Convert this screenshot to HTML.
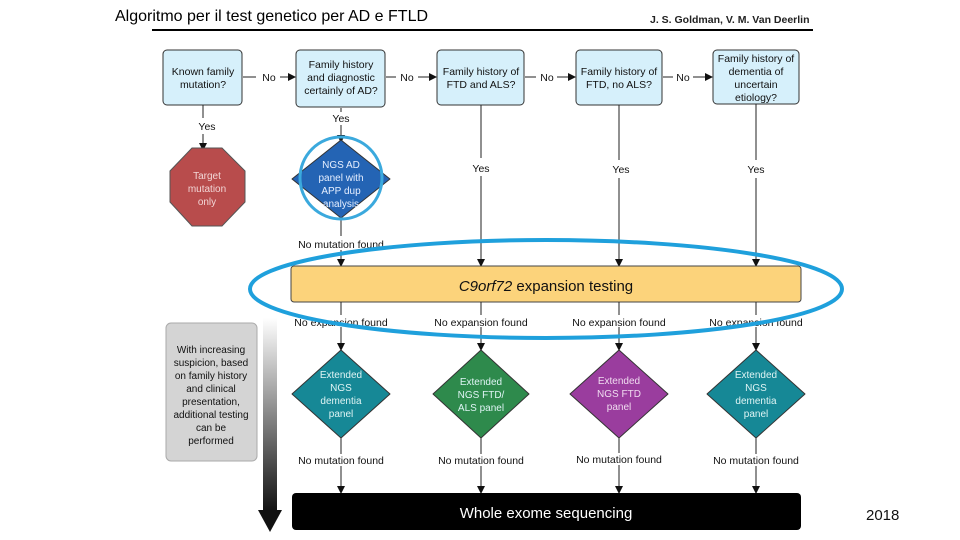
<!DOCTYPE html>
<html><head><meta charset="utf-8"><style>
html,body{margin:0;padding:0;background:#fff;}
svg{display:block;}
text{font-family:"Liberation Sans",sans-serif;}
</style></head><body>
<svg width="960" height="540" viewBox="0 0 960 540" xmlns="http://www.w3.org/2000/svg">
<defs>
<marker id="a" markerWidth="8" markerHeight="8" refX="7" refY="4" orient="auto" markerUnits="userSpaceOnUse"><path d="M0,0 L8,4 L0,8 z" fill="#111"/></marker>
<linearGradient id="g" x1="0" y1="0" x2="0" y2="1"><stop offset="0" stop-color="#fff"/><stop offset="1" stop-color="#111"/></linearGradient>
</defs>
<text x="115" y="21" font-size="16" font-family="Liberation Sans">Algoritmo per il test genetico per AD e FTLD</text>
<text x="650" y="23" font-size="10.5" font-weight="bold" fill="#222">J. S. Goldman, V. M. Van Deerlin</text>
<line x1="152" y1="30" x2="813" y2="30" stroke="#000" stroke-width="2"/>

<g fill="#d6f0fb" stroke="#333" stroke-width="1">
<rect x="163" y="50" width="79" height="55" rx="4"/>
<rect x="296" y="50" width="89" height="57" rx="4"/>
<rect x="437" y="50" width="87" height="55" rx="4"/>
<rect x="576" y="50" width="86" height="55" rx="4"/>
<rect x="713" y="50" width="86" height="54" rx="4"/>
</g>
<g font-size="10.5" text-anchor="middle" fill="#111">
<text x="203" y="75">Known family</text><text x="203" y="88">mutation?</text>
<text x="341" y="68">Family history</text><text x="341" y="81">and diagnostic</text><text x="341" y="94">certainly of AD?</text>
<text x="481" y="75">Family history of</text><text x="481" y="88">FTD and ALS?</text>
<text x="619" y="75">Family history of</text><text x="619" y="88">FTD, no ALS?</text>
<text x="756" y="62">Family history of</text><text x="756" y="75">dementia of</text><text x="756" y="88">uncertain</text><text x="756" y="101">etiology?</text>
</g>
<g stroke="#222" stroke-width="1" fill="none">
<line x1="243" y1="77" x2="256" y2="77"/><line x1="280" y1="77" x2="295" y2="77" marker-end="url(#a)"/>
<line x1="386" y1="77" x2="396" y2="77"/><line x1="418" y1="77" x2="436" y2="77" marker-end="url(#a)"/>
<line x1="525" y1="77" x2="536" y2="77"/><line x1="557" y1="77" x2="575" y2="77" marker-end="url(#a)"/>
<line x1="663" y1="77" x2="673" y2="77"/><line x1="693" y1="77" x2="712" y2="77" marker-end="url(#a)"/>
<line x1="203" y1="105" x2="203" y2="118"/><line x1="203" y1="134" x2="203" y2="150" marker-end="url(#a)"/>
<line x1="341" y1="108" x2="341" y2="112"/><line x1="341" y1="125" x2="341" y2="142" marker-end="url(#a)"/>
<line x1="341" y1="218" x2="341" y2="236"/><line x1="341" y1="250" x2="341" y2="266" marker-end="url(#a)"/>
<line x1="481" y1="105" x2="481" y2="158"/><line x1="481" y1="176" x2="481" y2="266" marker-end="url(#a)"/>
<line x1="619" y1="105" x2="619" y2="160"/><line x1="619" y1="178" x2="619" y2="266" marker-end="url(#a)"/>
<line x1="756" y1="104" x2="756" y2="160"/><line x1="756" y1="178" x2="756" y2="266" marker-end="url(#a)"/>
</g>
<g font-size="10.5" text-anchor="middle" fill="#111">
<text x="269" y="81">No</text><text x="407" y="81">No</text><text x="547" y="81">No</text><text x="683" y="81">No</text>
<text x="207" y="130">Yes</text><text x="341" y="122">Yes</text>
<text x="481" y="172">Yes</text><text x="621" y="173">Yes</text><text x="756" y="173">Yes</text>
<text x="341" y="248">No mutation found</text>
</g>
<polygon points="192,148 222,148 245,171 245,202 222,226 192,226 170,202 170,171" fill="#b84c4c" stroke="#555"/>
<g font-size="10" text-anchor="middle" fill="#f2d6d6"><text x="207" y="179">Target</text><text x="207" y="192">mutation</text><text x="207" y="205">only</text></g>
<polygon points="341,140 390,179 341,218 292,179" fill="#2464b4" stroke="#333" stroke-linejoin="round"/>
<circle cx="341" cy="178" r="41" fill="none" stroke="#3ba9dd" stroke-width="3"/>
<g font-size="10" text-anchor="middle" fill="#e6efff"><text x="341" y="168">NGS AD</text><text x="341" y="181">panel with</text><text x="341" y="194">APP dup</text><text x="341" y="207">analysis</text></g>

<rect x="291" y="266" width="510" height="36" rx="3" fill="#fcd37b" stroke="#444"/>
<text x="546" y="291" font-size="15" text-anchor="middle" fill="#111"><tspan font-style="italic">C9orf72</tspan> expansion testing</text>

<g stroke="#222" stroke-width="1">
<line x1="341" y1="302" x2="341" y2="350" marker-end="url(#a)"/>
<line x1="481" y1="302" x2="481" y2="350" marker-end="url(#a)"/>
<line x1="619" y1="302" x2="619" y2="350" marker-end="url(#a)"/>
<line x1="756" y1="302" x2="756" y2="350" marker-end="url(#a)"/>
<line x1="341" y1="438" x2="341" y2="493" marker-end="url(#a)"/>
<line x1="481" y1="438" x2="481" y2="493" marker-end="url(#a)"/>
<line x1="619" y1="438" x2="619" y2="493" marker-end="url(#a)"/>
<line x1="756" y1="438" x2="756" y2="493" marker-end="url(#a)"/>
</g>
<g font-size="10.5" text-anchor="middle" fill="#111">
<rect x="290" y="315" width="102" height="12" fill="#fff"/><text x="341" y="326">No expansion found</text>
<rect x="430" y="315" width="102" height="12" fill="#fff"/><text x="481" y="326">No expansion found</text>
<rect x="568" y="315" width="102" height="12" fill="#fff"/><text x="619" y="326">No expansion found</text>
<rect x="705" y="315" width="102" height="12" fill="#fff"/><text x="756" y="326">No expansion found</text>
<rect x="290" y="454" width="102" height="12" fill="#fff"/><text x="341" y="464">No mutation found</text>
<rect x="430" y="454" width="102" height="12" fill="#fff"/><text x="481" y="464">No mutation found</text>
<rect x="568" y="453" width="102" height="12" fill="#fff"/><text x="619" y="463">No mutation found</text>
<rect x="705" y="454" width="102" height="12" fill="#fff"/><text x="756" y="464">No mutation found</text>
</g>
<g stroke="#333" stroke-linejoin="round">
<polygon points="341,350 390,394 341,438 292,394" fill="#168896"/>
<polygon points="481,350 529,394 481,438 433,394" fill="#2e8a4c"/>
<polygon points="619,350 668,394 619,438 570,394" fill="#9a3d9e"/>
<polygon points="756,350 805,394 756,438 707,394" fill="#168896"/>
</g>
<g font-size="10" text-anchor="middle" fill="#dff4f4">
<text x="341" y="378">Extended</text><text x="341" y="391">NGS</text><text x="341" y="404">dementia</text><text x="341" y="417">panel</text>
<text x="481" y="385">Extended</text><text x="481" y="398">NGS FTD/</text><text x="481" y="411">ALS panel</text>
<text x="619" y="384" fill="#f0dcf0">Extended</text><text x="619" y="397" fill="#f0dcf0">NGS FTD</text><text x="619" y="410" fill="#f0dcf0">panel</text>
<text x="756" y="378">Extended</text><text x="756" y="391">NGS</text><text x="756" y="404">dementia</text><text x="756" y="417">panel</text>
</g>
<rect x="292" y="493" width="509" height="37" rx="4" fill="#000"/>
<text x="546" y="518" font-size="15" text-anchor="middle" fill="#fff">Whole exome sequencing</text>

<rect x="166" y="323" width="91" height="138" rx="5" fill="#d4d4d4" stroke="#aaa"/>
<g font-size="10" text-anchor="middle" fill="#111">
<text x="211" y="353">With increasing</text><text x="211" y="366">suspicion, based</text><text x="211" y="379">on family history</text><text x="211" y="392">and clinical</text><text x="211" y="405">presentation,</text><text x="211" y="418">additional testing</text><text x="211" y="431">can be</text><text x="211" y="444">performed</text>
</g>
<rect x="263" y="318" width="14" height="193" fill="url(#g)"/>
<polygon points="258,510 282,510 270,532" fill="#111"/>

<ellipse cx="546" cy="289" rx="296" ry="49" fill="none" stroke="#1fa0dc" stroke-width="4"/>
<text x="866" y="520" font-size="15" fill="#111">2018</text>
</svg>
</body></html>
